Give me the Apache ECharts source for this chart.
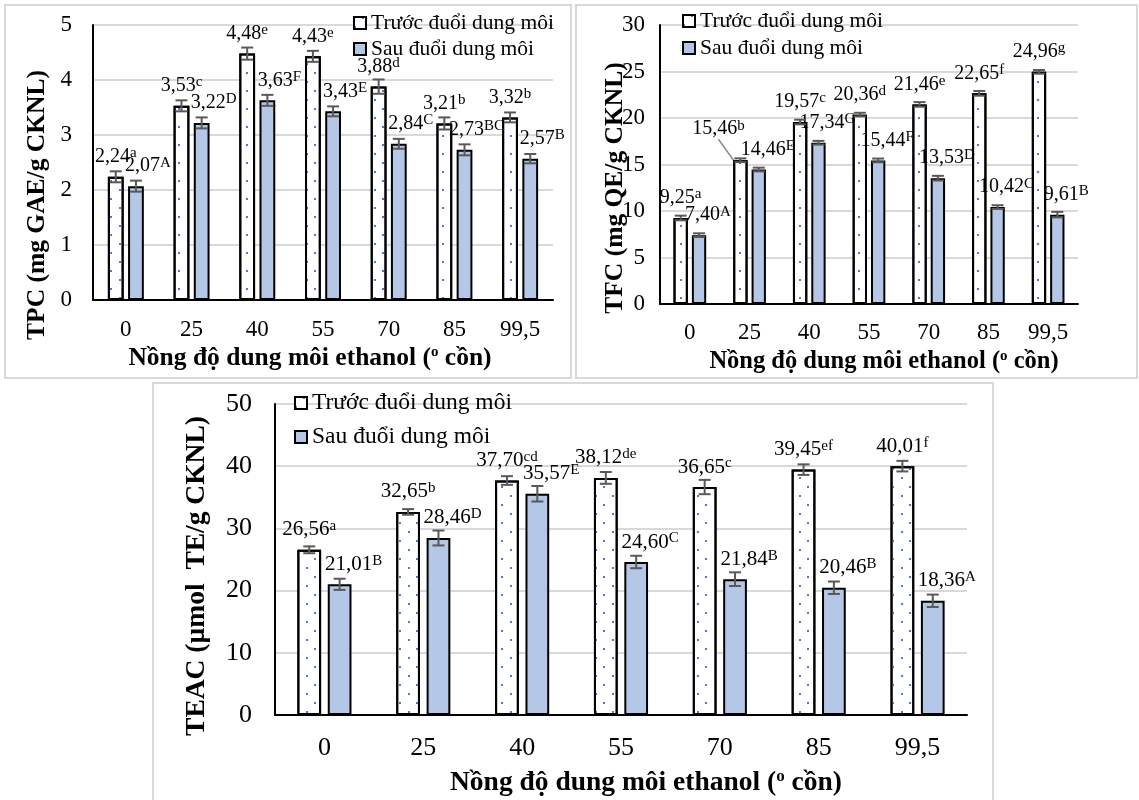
<!DOCTYPE html>
<html>
<head>
<meta charset="utf-8">
<script src="https://cdn.jsdelivr.net/npm/echarts@6/dist/echarts.min.js"></script>
<style>
html,body{margin:0;padding:0;background:#fff;}
#chart{width:1139px;height:800px;}
</style>
</head>
<body>
<div id="chart"></div>
<script>
// ---------- data ----------
const categories = ['0', '25', '40', '55', '70', '85', '99,5'];
const seriesNames = ['Trước đuổi dung môi', 'Sau đuổi dung môi'];

const tpcBefore    = [2.24, 3.53, 4.48, 4.43, 3.88, 3.21, 3.32];
const tpcBeforeErr = [0.10, 0.10, 0.11, 0.10, 0.13, 0.11, 0.09];
const tpcBeforeSig = ['a', 'c', 'e', 'e', 'd', 'b', 'b'];
const tpcAfter     = [2.07, 3.22, 3.63, 3.43, 2.84, 2.73, 2.57];
const tpcAfterErr  = [0.10, 0.10, 0.10, 0.09, 0.09, 0.10, 0.085];
const tpcAfterSig  = ['A', 'D', 'F', 'E', 'C', 'BC', 'B'];

const tfcBefore    = [9.25, 15.46, 19.57, 20.36, 21.46, 22.65, 24.96];
const tfcBeforeErr = [0.25, 0.20, 0.25, 0.20, 0.25, 0.25, 0.20];
const tfcBeforeSig = ['a', 'b', 'c', 'd', 'e', 'f', 'g'];
const tfcAfter     = [7.40, 14.46, 17.34, 15.44, 13.53, 10.42, 9.61];
const tfcAfterErr  = [0.20, 0.20, 0.20, 0.20, 0.25, 0.20, 0.30];
const tfcAfterSig  = ['A', 'E', 'G', 'F', 'D', 'C', 'B'];

const teacBefore    = [26.56, 32.65, 37.70, 38.12, 36.65, 39.45, 40.01];
const teacBeforeErr = [0.55, 0.45, 0.70, 0.95, 1.15, 0.85, 0.85];
const teacBeforeSig = ['a', 'b', 'cd', 'de', 'c', 'ef', 'f'];
const teacAfter     = [21.01, 28.46, 35.57, 24.60, 21.84, 20.46, 18.36];
const teacAfterErr  = [0.90, 1.20, 1.25, 1.00, 1.10, 1.00, 1.00];
const teacAfterSig  = ['B', 'D', 'E', 'C', 'B', 'B', 'A'];

const yNames = ['TPC (mg GAE/g CKNL)', 'TFC (mg QE/g CKNL)', 'TEAC (µmol  TE/g CKNL)'];
const xNamePre = 'Nồng độ dung môi ethanol (';
const xNameSup = 'o';
const xNamePost = ' cồn)';

// ---------- styling / layout ----------
const FONT = '"Liberation Serif", "Times New Roman", serif';
const BAR_W = 0.24, BAR_GAP = 0.28;
const panels = [
  { grid: {left: 93, top: 25, width: 460, height: 275}, y: {max: 5, interval: 1}, tick: 23, yMargin: 21, xMargin: 18,
    legend: {left: 353, top: 12, gap: 4, lh: 22, fs: 21.5}, lab: 20, labOff: 12,
    yName: {x: 37, y: 205, fs: 25.5}, xName: {x: 310, y: 358, fs: 25.5},
    data: [[tpcBefore, tpcBeforeErr, tpcBeforeSig], [tpcAfter, tpcAfterErr, tpcAfterSig]] },
  { grid: {left: 660, top: 25, width: 418, height: 279}, y: {max: 30, interval: 5}, tick: 23, yMargin: 15, xMargin: 17,
    legend: {left: 682, top: 10, gap: 5, lh: 22, fs: 21.5}, lab: 20, labOff: 9,
    yName: {x: 615, y: 188, fs: 25.5}, xName: {x: 884, y: 362, fs: 24.5},
    data: [[tfcBefore, tfcBeforeErr, tfcBeforeSig], [tfcAfter, tfcAfterErr, tfcAfterSig]] },
  { grid: {left: 275, top: 404, width: 692, height: 311}, y: {max: 50, interval: 10}, tick: 26, yMargin: 23, xMargin: 20,
    legend: {left: 294, top: 391, gap: 10, lh: 24, fs: 23.5}, lab: 21, labOff: 14,
    yName: {x: 197, y: 576, fs: 27.5}, xName: {x: 646, y: 783, fs: 27.5},
    data: [[teacBefore, teacBeforeErr, teacBeforeSig], [teacAfter, teacAfterErr, teacAfterSig]] }
];

const whiteStyle = {
  color: '#ffffff', borderColor: '#000000', borderWidth: 2,
  decal: { symbol: 'rect', symbolSize: 1, color: '#4a7cc9',
           dashArrayX: [[1.8, 14.2], [0, 8, 1.8, 6.2]], dashArrayY: [1.8, 6.2] }
};
const blueStyle = { color: '#b4c7e7', borderColor: '#000000', borderWidth: 2 };

function fmt(v) { return v.toFixed(2).replace('.', ','); }

function errRender(side) {
  return function (params, api) {
    const i = api.value(0), v = api.value(1), e = api.value(2);
    const c = api.coord([i, v]);
    const band = api.size([1, 0])[0];
    const bw = band * BAR_W, gap = bw * BAR_GAP;
    const x = c[0] + side * (bw + gap) / 2;
    const yT = api.coord([i, v + e])[1], yB = api.coord([i, v - e])[1];
    const cap = 6;
    const st = { stroke: '#595959', lineWidth: 2 };
    return { type: 'group', children: [
      { type: 'line', shape: {x1: x, y1: yT, x2: x, y2: yB}, style: st },
      { type: 'line', shape: {x1: x - cap, y1: yT, x2: x + cap, y2: yT}, style: st },
      { type: 'line', shape: {x1: x - cap, y1: yB, x2: x + cap, y2: yB}, style: st }
    ]};
  };
}

const grids = [], xAxes = [], yAxes = [], series = [], legends = [], graphics = [];

// panel frames
[[5, 5, 566, 373], [576, 5, 561, 373], [153, 383, 840, 420]].forEach(r => {
  graphics.push({ type: 'rect', silent: true, z: -10, shape: {x: r[0], y: r[1], width: r[2], height: r[3]},
                  style: { fill: 'none', stroke: '#d9d9d9', lineWidth: 2 } });
});

panels.forEach((p, k) => {
  grids.push(p.grid);
  xAxes.push({
    type: 'category', gridIndex: k, data: categories,
    axisLine: { lineStyle: { color: '#000', width: 2 } },
    axisTick: { show: false },
    axisLabel: { color: '#000', fontFamily: FONT, fontSize: p.tick, margin: p.xMargin },
    splitLine: { show: false }
  });
  yAxes.push({
    type: 'value', gridIndex: k, min: 0, max: p.y.max, interval: p.y.interval,
    axisLine: { show: true, lineStyle: { color: '#000', width: 2 } },
    axisTick: { show: false },
    axisLabel: { color: '#000', fontFamily: FONT, fontSize: p.tick, margin: p.yMargin },
    splitLine: { lineStyle: { color: '#d9d9d9', width: 2 } }
  });
  legends.push({
    orient: 'vertical', left: p.legend.left, top: p.legend.top, padding: 0,
    itemGap: p.legend.gap, itemWidth: 12, itemHeight: 12, icon: 'rect',
    data: seriesNames,
    textStyle: { color: '#000', fontFamily: FONT, fontSize: p.legend.fs, lineHeight: p.legend.lh }
  });

  p.data.forEach((d, s) => {
    const vals = d[0], errs = d[1], sigs = d[2];
    const side = s === 0 ? -1 : 1;
    const barData = vals.map((v, i) => {
      if (k === 1 && s === 0 && i === 1) {
        return { value: v, labelLine: { show: true, lineStyle: { color: '#8c8c8c', width: 1.5 } } };
      }
      return v;
    });
    const ser = {
      type: 'bar', name: seriesNames[s], xAxisIndex: k, yAxisIndex: k,
      data: barData, barWidth: (BAR_W * 100) + '%', barGap: (BAR_GAP * 100) + '%',
      itemStyle: s === 0 ? whiteStyle : blueStyle,
      animation: false,
      label: {
        show: true, position: 'top', distance: 9, offset: s === 0 ? [0, 0] : [p.labOff, 0],
        formatter: (prm) => '{v|' + fmt(vals[prm.dataIndex]) + '}{s|' + sigs[prm.dataIndex] + '}',
        rich: {
          v: { fontFamily: FONT, fontSize: p.lab, color: '#000', lineHeight: 22 },
          s: { fontFamily: FONT, fontSize: 15, color: '#000', lineHeight: 22, verticalAlign: 'top' }
        }
      },
      emphasis: { disabled: true }
    };
    if (k === 1 && s === 0) {
      ser.labelLayout = (prm) => prm.dataIndex === 1 ? { dx: -22, dy: -11 } : {};
    }
    series.push(ser);
    series.push({
      type: 'custom', name: seriesNames[s] + ' SD', xAxisIndex: k, yAxisIndex: k,
      data: vals.map((v, i) => [i, v, errs[i]]),
      encode: { x: 0, y: 1 }, renderItem: errRender(side), z: 5, silent: true, animation: false
    });
  });

  graphics.push({
    type: 'text', x: p.yName.x, y: p.yName.y, rotation: Math.PI / 2, silent: true,
    style: { text: yNames[k], font: 'bold ' + p.yName.fs + 'px ' + FONT, fill: '#000',
             align: 'center', verticalAlign: 'middle', textAlign: 'center', textVerticalAlign: 'middle' }
  });
  graphics.push({
    type: 'text', x: p.xName.x, y: p.xName.y, silent: true,
    style: {
      text: '{b|' + xNamePre + '}{sup|' + xNameSup + '}{b|' + xNamePost + '}',
      align: 'center', verticalAlign: 'middle', textAlign: 'center', textVerticalAlign: 'middle',
      rich: {
        b: { fontFamily: FONT, fontWeight: 'bold', fontSize: p.xName.fs, fill: '#000', lineHeight: p.xName.fs + 2 },
        sup: { fontFamily: FONT, fontWeight: 'bold', fontSize: Math.round(p.xName.fs * 0.6), fill: '#000',
               lineHeight: p.xName.fs + 2, verticalAlign: 'top' }
      }
    }
  });
});

const chart = echarts.init(document.getElementById('chart'), null, { renderer: 'canvas' });
chart.setOption({
  backgroundColor: '#ffffff',
  animation: false,
  grid: grids, xAxis: xAxes, yAxis: yAxes, legend: legends,
  series: series, graphic: graphics
});
</script>
</body>
</html>
